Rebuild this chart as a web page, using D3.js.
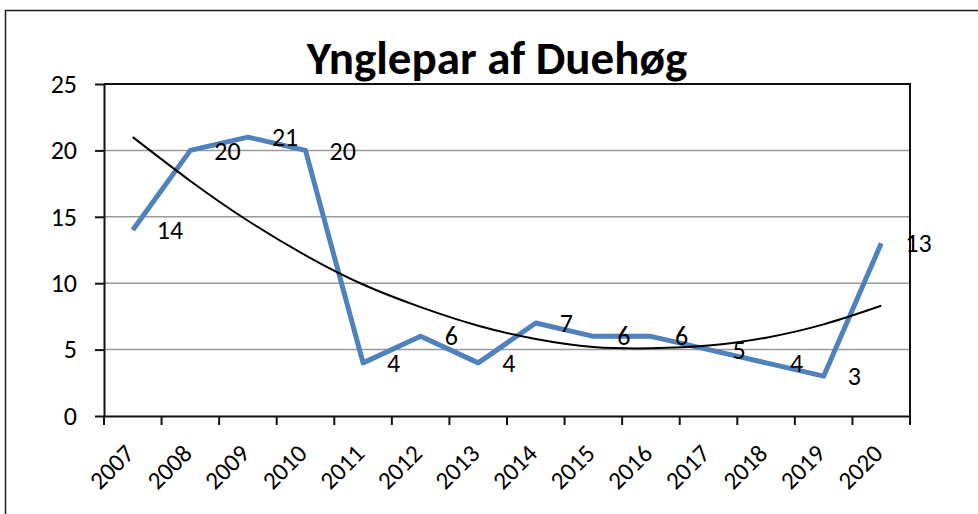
<!DOCTYPE html>
<html>
<head>
<meta charset="utf-8">
<script src="https://cdn.jsdelivr.net/npm/d3@7"></script>
<style>
  body { margin: 0; background: #fff; }
  svg { display: block; }
</style>
</head>
<body>
<svg width="978" height="514"></svg>
<script>
// chart data
var years = ["2007","2008","2009","2010","2011","2012","2013","2014","2015","2016","2017","2018","2019","2020"];
var pairs = [14, 20, 21, 20, 4, 6, 4, 7, 6, 6, 5, 4, 3, 13];
// black trend line, read at each year
var trend = [21.0, 17.7, 14.7, 12.1, 9.9, 8.2, 6.8, 5.8, 5.2, 5.1, 5.3, 5.9, 6.9, 8.3];
var yTicks = [0, 5, 10, 15, 20, 25];
var title = "Ynglepar af Duehøg";

var font = "Carlito, Calibri, Lato, sans-serif";
var fs = 26;

var margins = {top: 84, left: 104, right: 68, bottom: 98};
var width = 978 - margins.left - margins.right;
var height = 514 - margins.top - margins.bottom;

var svg = d3.select("svg");

// outer chart border
svg.append("rect")
   .attr("x", 5.5).attr("y", 10.5)
   .attr("width", 1000).attr("height", 600)
   .attr("fill", "none")
   .attr("stroke", "#1a1a1a")
   .attr("stroke-width", 1.5);

svg.append("text")
   .attr("x", 497).attr("y", 74)
   .attr("text-anchor", "middle")
   .attr("font-family", font)
   .attr("font-weight", "bold")
   .attr("font-size", 47)
   .text(title);

var xScale = d3.scaleBand()
               .domain(years)
               .range([0, width])
               .padding(0);
var bw = xScale.bandwidth();
var cx = function(d) { return xScale(d) + bw / 2; };

var yScale = d3.scaleLinear()
               .domain([0, 25])
               .range([height, 0]);

var plot = svg.append("g")
              .attr("transform", "translate(" + margins.left + "," + margins.top + ")");

// gridlines
plot.selectAll(".grid")
    .data(yTicks.filter(function(d) { return d > 0 && d < 25; }))
    .enter()
    .append("line")
    .attr("x1", 0).attr("x2", width)
    .attr("y1", function(d) { return yScale(d); })
    .attr("y2", function(d) { return yScale(d); })
    .attr("stroke", "#9a9a9a")
    .attr("stroke-width", 1.5);

// plot area border (top + right)
plot.append("path")
    .attr("d", "M0,0H" + width + "V" + height)
    .attr("fill", "none")
    .attr("stroke", "#111")
    .attr("stroke-width", 2);

// y axis
var yAxis = plot.append("g")
                .call(d3.axisLeft(yScale).tickValues(yTicks).tickSize(9).tickSizeOuter(0).tickPadding(18));
yAxis.selectAll("line, path").attr("stroke", "#111").attr("stroke-width", 2);
yAxis.selectAll("text")
     .attr("font-family", font)
     .attr("font-size", fs)
     .attr("fill", "#000");

// x axis, ticks between categories
var xAxis = plot.append("g")
                .attr("transform", "translate(0," + height + ")")
                .call(d3.axisBottom(xScale).tickSize(9).tickSizeOuter(0));
xAxis.selectAll("path").attr("stroke", "#111").attr("stroke-width", 2);
xAxis.selectAll(".tick line")
     .attr("x1", -bw / 2).attr("x2", -bw / 2)
     .attr("stroke", "#111").attr("stroke-width", 2);
xAxis.append("line")
     .attr("x1", width).attr("x2", width)
     .attr("y1", 0).attr("y2", 9)
     .attr("stroke", "#111").attr("stroke-width", 2);
xAxis.selectAll(".tick text")
     .attr("font-family", font)
     .attr("font-size", 25)
     .attr("fill", "#000")
     .attr("text-anchor", "end")
     .attr("dy", null)
     .attr("y", 0)
     .attr("transform", "translate(3,39) rotate(-45)");

// data line
var line = d3.line()
             .x(function(d, i) { return cx(years[i]); })
             .y(function(d) { return yScale(d); });

plot.append("path")
    .datum(pairs)
    .attr("d", line)
    .attr("fill", "none")
    .attr("stroke", "#4f81bd")
    .attr("stroke-width", 5)
    .attr("stroke-linejoin", "round");

// trend line
var trendLine = d3.line()
                  .x(function(d, i) { return cx(years[i]); })
                  .y(function(d) { return yScale(d); })
                  .curve(d3.curveNatural);

plot.append("path")
    .datum(trend)
    .attr("d", trendLine)
    .attr("fill", "none")
    .attr("stroke", "#000")
    .attr("stroke-width", 2);

// data labels
plot.selectAll(".lbl")
    .data(pairs)
    .enter()
    .append("text")
    .attr("x", function(d, i) { return cx(years[i]) + 24; })
    .attr("y", function(d) { return yScale(d); })
    .attr("dy", "0.35em")
    .attr("font-family", font)
    .attr("font-size", fs)
    .attr("fill", "#000")
    .text(function(d) { return d; });
</script>
</body>
</html>
